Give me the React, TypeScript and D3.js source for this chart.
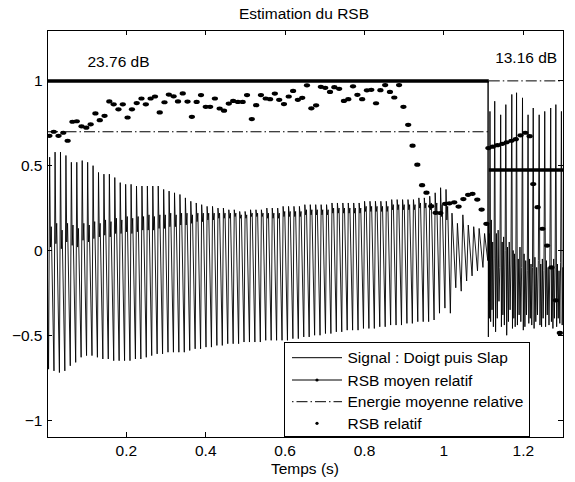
import React from 'react';
import * as d3 from 'd3';

// ---------- data ----------
const title = 'Estimation du RSB';
const xLabel = 'Temps (s)';
const xTicks = [0.2, 0.4, 0.6, 0.8, 1, 1.2];
const xTickLabels = ['0.2', '0.4', '0.6', '0.8', '1', '1.2'];
const yTicks = [-1, -0.5, 0, 0.5, 1];
const yTickLabels = ['\u22121', '\u22120.5', '0', '0.5', '1'];

const segmentStarts = [0, 1.113];
const segmentEnds = [1.113, 1.3];
const rsbMoyen = [1.0, 0.475];
const energieMoyenne = [0.7, 1.0];
const snrLabels = ['23.76 dB', '13.16 dB'];
const snrLabelT = [0.102, 1.129];
const snrLabelV = [1.084, 1.107];

const legendLabels = ['Signal : Doigt puis Slap', 'RSB moyen relatif', 'Energie moyenne relative', 'RSB relatif'];

// RSB relatif (frame times, values)
const rsbTimes = [
  0.006, 0.017, 0.029, 0.041, 0.052, 0.064, 0.075, 0.087, 0.099, 0.110,
  0.122, 0.133, 0.145, 0.157, 0.168, 0.180, 0.191, 0.203, 0.214, 0.226,
  0.238, 0.249, 0.261, 0.272, 0.284, 0.296, 0.307, 0.319, 0.330, 0.342,
  0.354, 0.365, 0.377, 0.388, 0.400, 0.411, 0.423, 0.435, 0.446, 0.458,
  0.469, 0.481, 0.493, 0.504, 0.516, 0.527, 0.539, 0.551, 0.562, 0.574,
  0.585, 0.597, 0.609, 0.620, 0.632, 0.643, 0.655, 0.666, 0.678, 0.690,
  0.701, 0.713, 0.724, 0.736, 0.748, 0.759, 0.771, 0.782, 0.794, 0.806,
  0.817, 0.829, 0.840, 0.852, 0.864, 0.875, 0.887, 0.898, 0.910, 0.921,
  0.933, 0.945, 0.956, 0.968, 0.979, 0.991, 1.003, 1.014, 1.026, 1.037,
  1.049, 1.061, 1.072, 1.084, 1.095, 1.107,
  1.112, 1.123, 1.135, 1.147, 1.158, 1.170, 1.181, 1.193, 1.205, 1.216,
  1.225, 1.236, 1.248, 1.260, 1.271, 1.282, 1.292,
];
const rsbValues = [
  0.676, 0.700, 0.676, 0.694, 0.647, 0.759, 0.762, 0.732, 0.724, 0.744,
  0.808, 0.768, 0.794, 0.879, 0.862, 0.832, 0.862, 0.784, 0.832, 0.869,
  0.896, 0.862, 0.896, 0.908, 0.814, 0.874, 0.919, 0.909, 0.879, 0.926,
  0.878, 0.788, 0.876, 0.916, 0.847, 0.847, 0.896, 0.837, 0.824, 0.866,
  0.882, 0.876, 0.876, 0.916, 0.775, 0.857, 0.916, 0.896, 0.892, 0.925,
  0.888, 0.863, 0.908, 0.941, 0.888, 0.900, 0.974, 0.838, 0.856, 0.965,
  0.959, 0.935, 0.963, 0.953, 0.882, 0.892, 0.968, 0.918, 0.892, 0.944,
  0.947, 0.868, 0.945, 0.975, 0.935, 0.902, 0.975, 0.847, 0.741, 0.618,
  0.506, 0.385, 0.341, 0.261, 0.222, 0.221, 0.275, 0.278, 0.284, 0.259,
  0.303, 0.328, 0.334, 0.300, 0.241, 0.157,
  0.604, 0.612, 0.621, 0.629, 0.638, 0.647, 0.656, 0.679, 0.694, 0.674,
  0.392, 0.255, 0.128, 0.029, -0.100, -0.294, -0.486,
];

// Signal, finger part: one entry per cycle
const fingerPeriod = 0.01368;
const fingerOffset = 0.0039;
const fingerTop = [
  0.55, 0.58, 0.58, 0.56, 0.52, 0.52, 0.53, 0.52, 0.50, 0.46,
  0.45, 0.45, 0.43, 0.40, 0.39, 0.39, 0.38, 0.38, 0.38, 0.38,
  0.38, 0.36, 0.35, 0.34, 0.33, 0.31, 0.29, 0.28, 0.27, 0.26,
  0.26, 0.25, 0.25, 0.24, 0.24, 0.23, 0.23, 0.24, 0.24, 0.24,
  0.25, 0.25, 0.25, 0.26, 0.26, 0.26, 0.26, 0.27, 0.27, 0.27,
  0.27, 0.27, 0.28, 0.28, 0.28, 0.28, 0.28, 0.28, 0.29, 0.29,
  0.29, 0.29, 0.29, 0.30, 0.30, 0.30, 0.30, 0.30, 0.31, 0.31,
  0.32, 0.34, 0.37, 0.36,
];
const fingerDip = [
  0.02, 0.04, 0.01, 0.05, 0.03, 0.02, 0.06, 0.05, 0.07, 0.08,
  0.09, 0.08, 0.10, 0.10, 0.11, 0.10, 0.11, 0.12, 0.12, 0.12,
  0.13, 0.13, 0.14, 0.14, 0.15, 0.15, 0.16, 0.17, 0.17, 0.18,
  0.18, 0.19, 0.19, 0.19, 0.20, 0.19, 0.19, 0.20, 0.20, 0.20,
  0.19, 0.19, 0.19, 0.20, 0.20, 0.20, 0.20, 0.21, 0.21, 0.21,
  0.21, 0.21, 0.22, 0.22, 0.22, 0.22, 0.22, 0.22, 0.23, 0.23,
  0.23, 0.23, 0.23, 0.24, 0.24, 0.24, 0.24, 0.24, 0.25, 0.25,
  0.24, 0.22, 0.20, 0.18,
];
const fingerBump = [
  0.14, 0.16, 0.12, 0.16, 0.15, 0.13, 0.16, 0.15, 0.17, 0.16,
  0.18, 0.17, 0.19, 0.18, 0.20, 0.19, 0.20, 0.20, 0.21, 0.20,
  0.21, 0.21, 0.22, 0.21, 0.22, 0.22, 0.21, 0.22, 0.22, 0.22,
  0.22, 0.22, 0.22, 0.22, 0.22, 0.21, 0.21, 0.22, 0.22, 0.22,
  0.22, 0.22, 0.22, 0.23, 0.23, 0.23, 0.23, 0.24, 0.24, 0.24,
  0.24, 0.24, 0.25, 0.25, 0.25, 0.25, 0.25, 0.25, 0.26, 0.26,
  0.26, 0.26, 0.26, 0.27, 0.27, 0.27, 0.27, 0.27, 0.28, 0.28,
  0.28, 0.28, 0.27, 0.26,
];
const fingerBottom = [
  -0.70, -0.71, -0.72, -0.71, -0.68, -0.66, -0.63, -0.62, -0.62, -0.63,
  -0.64, -0.64, -0.65, -0.65, -0.65, -0.65, -0.64, -0.64, -0.63, -0.62,
  -0.61, -0.61, -0.60, -0.60, -0.60, -0.60, -0.59, -0.58, -0.58, -0.57,
  -0.57, -0.56, -0.56, -0.55, -0.55, -0.55, -0.54, -0.54, -0.54, -0.54,
  -0.53, -0.53, -0.53, -0.53, -0.53, -0.52, -0.52, -0.51, -0.51, -0.50,
  -0.50, -0.49, -0.49, -0.48, -0.48, -0.47, -0.47, -0.47, -0.46, -0.46,
  -0.46, -0.45, -0.45, -0.44, -0.44, -0.44, -0.43, -0.43, -0.42, -0.42,
  -0.42, -0.41, -0.37, -0.34,
];
// decay after the finger note
const decayTop = [0.22, 0.16, 0.21, 0.15, 0.14, 0.13, 0.10];
const decayBottom = [-0.37, -0.22, -0.24, -0.18, -0.15, -0.12, -0.10];
const decayEnd = -0.06;

// Slap part: spike times and per-cycle samples
const slapTimes = [1.1113, 1.116, 1.128, 1.143, 1.156, 1.171, 1.183, 1.198, 1.212, 1.225, 1.240, 1.254, 1.269, 1.282, 1.296];
const slapCycles = [
  [1.00, -0.51, 0.15, -0.30, 0.10, -0.40, 0.05],
  [0.82, -0.42, 0.18, -0.35, 0.05, -0.45, -0.05],
  [0.88, -0.48, 0.10, -0.40, 0.12, -0.30, -0.10],
  [0.80, -0.45, 0.05, -0.38, 0.08, -0.44, 0.00],
  [0.86, -0.50, 0.02, -0.42, 0.05, -0.35, -0.08],
  [0.92, -0.46, 0.00, -0.40, -0.02, -0.45, -0.05],
  [0.93, -0.44, -0.05, -0.38, 0.02, -0.42, -0.10],
  [0.90, -0.47, -0.02, -0.45, -0.06, -0.38, -0.12],
  [0.80, -0.43, -0.05, -0.40, -0.08, -0.44, -0.10],
  [0.84, -0.46, -0.04, -0.42, -0.10, -0.38, -0.06],
  [0.80, -0.44, -0.08, -0.45, -0.05, -0.40, -0.12],
  [0.82, -0.45, -0.06, -0.38, -0.10, -0.44, -0.08],
  [0.84, -0.42, -0.10, -0.46, -0.05, -0.40, -0.10],
  [0.86, -0.45, -0.08, -0.40, -0.12, -0.43, -0.07],
  [0.82, -0.44, -0.10, -0.42, -0.06, -0.45, -0.10],
];

// ---------- layout ----------
const W = 575;
const H = 482;
const L = 47, R = 563, T = 30, B = 437;
const FONT = '"Liberation Sans", Arial, Helvetica, sans-serif';
const FS = 15.5;

const x = d3.scaleLinear().domain([0, 1.3]).range([L, R]);
const y = d3.scaleLinear().domain([-1.1, 1.3]).range([B, T]);

function buildSignal(): [number, number][] {
  const pts: [number, number][] = [[0, 0.1]];
  const P = fingerPeriod;
  for (let i = 0; i < fingerTop.length; i++) {
    const s = fingerOffset + i * P;
    pts.push([s, fingerBottom[i]]);
    pts.push([s + 0.2 * P, fingerTop[i]]);
    pts.push([s + 0.35 * P, fingerDip[i]]);
    pts.push([s + 0.5 * P, fingerBump[i]]);
  }
  const d0 = fingerOffset + fingerTop.length * P;
  for (let j = 0; j < decayTop.length; j++) {
    const s = d0 + j * P;
    pts.push([s, decayBottom[j]]);
    pts.push([s + 0.3 * P, decayTop[j]]);
  }
  pts.push([slapTimes[0] - 0.0008, decayEnd]);
  for (let k = 0; k < slapTimes.length; k++) {
    const t0 = slapTimes[k];
    const t1 = k + 1 < slapTimes.length ? slapTimes[k + 1] : t0 + 0.0138;
    const vals = slapCycles[k];
    const step = (t1 - t0) / vals.length;
    vals.forEach((v, j) => pts.push([t0 + j * step, v]));
  }
  return pts;
}

export default function App() {
  const line = d3.line<[number, number]>().x((d) => x(d[0])).y((d) => y(d[1]));
  const signalPath = line(buildSignal()) || '';
  const legendY = [357.7, 380, 401.7, 423.3];
  const lx1 = 292, lx2 = 342, ltx = 347.5;

  return (
    <svg width={W} height={H} style={{ position: 'absolute', left: 0, top: 0, background: '#fff' }} fontFamily={FONT}>
      <rect x={0} y={0} width={W} height={H} fill="#fff" />
      <defs>
        <clipPath id="plotclip">
          <rect x={L} y={T} width={R - L} height={B - T} />
        </clipPath>
      </defs>

      <g clipPath="url(#plotclip)">
        {/* signal */}
        <path d={signalPath} fill="none" stroke="#000" strokeWidth={0.9} />
        {/* RSB moyen relatif */}
        {rsbMoyen.map((v, i) => (
          <line key={'m' + i} x1={x(segmentStarts[i])} x2={x(segmentEnds[i])} y1={y(v)} y2={y(v)} stroke="#000" strokeWidth={3.5} />
        ))}
        {/* Energie moyenne relative */}
        {energieMoyenne.map((v, i) => (
          <line key={'e' + i} x1={x(segmentStarts[i])} x2={x(segmentEnds[i])} y1={y(v)} y2={y(v)} stroke="#000" strokeWidth={1} strokeDasharray="11,3,1.5,3" />
        ))}
        {/* RSB relatif */}
        {rsbTimes.map((t, i) => (
          <ellipse key={'d' + i} cx={x(t)} cy={y(rsbValues[i])} rx={3.1} ry={2.1} fill="#000" />
        ))}
      </g>

      {/* dB labels */}
      {snrLabels.map((s, i) => (
        <text key={'s' + i} x={x(snrLabelT[i])} y={y(snrLabelV[i])} fontSize={FS} fill="#000">{s}</text>
      ))}

      {/* axes box */}
      <rect x={L} y={T} width={R - L} height={B - T} fill="none" stroke="#000" strokeWidth={1} shapeRendering="crispEdges" />
      {xTicks.map((t, i) => (
        <g key={'xt' + i}>
          <line x1={x(t)} x2={x(t)} y1={B} y2={B - 5} stroke="#000" shapeRendering="crispEdges" />
          <line x1={x(t)} x2={x(t)} y1={T} y2={T + 5} stroke="#000" shapeRendering="crispEdges" />
          <text x={x(t)} y={455.8} textAnchor="middle" fontSize={FS}>{xTickLabels[i]}</text>
        </g>
      ))}
      {yTicks.map((v, i) => (
        <g key={'yt' + i}>
          <line x1={L} x2={L + 5} y1={y(v)} y2={y(v)} stroke="#000" shapeRendering="crispEdges" />
          <line x1={R} x2={R - 5} y1={y(v)} y2={y(v)} stroke="#000" shapeRendering="crispEdges" />
          <text x={42.5} y={y(v) + 5.6} textAnchor="end" fontSize={FS}>{yTickLabels[i]}</text>
        </g>
      ))}

      {/* title and axis label */}
      <text x={304} y={18.5} textAnchor="middle" fontSize={FS}>{title}</text>
      <text x={305} y={474} textAnchor="middle" fontSize={FS}>{xLabel}</text>

      {/* legend */}
      <rect x={284.5} y={342.5} width={245} height={94} fill="#fff" stroke="#000" strokeWidth={1} shapeRendering="crispEdges" />
      <line x1={lx1} x2={lx2} y1={legendY[0]} y2={legendY[0]} stroke="#000" strokeWidth={1} />
      <line x1={lx1} x2={lx2} y1={legendY[1]} y2={legendY[1]} stroke="#000" strokeWidth={1} />
      <circle cx={(lx1 + lx2) / 2} cy={legendY[1]} r={1.6} fill="#000" />
      <line x1={lx1} x2={lx2} y1={legendY[2]} y2={legendY[2]} stroke="#000" strokeWidth={1} strokeDasharray="1.5,3,11,3" />
      <circle cx={(lx1 + lx2) / 2} cy={legendY[3]} r={1.6} fill="#000" />
      {legendLabels.map((s, i) => (
        <text key={'l' + i} x={ltx} y={legendY[i] + 5.6} fontSize={FS}>{s}</text>
      ))}
    </svg>
  );
}
